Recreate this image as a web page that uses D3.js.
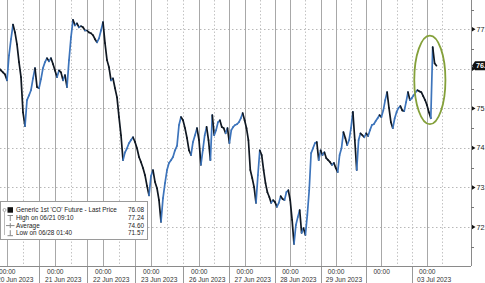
<!DOCTYPE html>
<html>
<head>
<meta charset="utf-8">
<title>Generic 1st 'CO' Future</title>
<script src="https://cdn.jsdelivr.net/npm/d3@7"></script>
<style>
  body { margin: 0; background: #fff; }
  svg { display: block; font-family: "Liberation Sans", Arial, sans-serif; }
</style>
</head>
<body>
<script>
// hourly last price, hours counted from 20 Jun 2023 00:00 on a trading-time axis (weekend removed)
var startHour = -4;
var prices = [
  76.02, 75.96, 75.91, 75.86,
  75.71, 76.34, 76.75, 77.12, 76.92, 76.62, 76.17, 75.79, 74.90, 74.55, 75.21, 75.33,
  75.46, 75.76, 76.02, 75.54, 75.51, 75.74, 76.02, 76.17, 76.27, 76.19, 76.27, 76.12,
  75.96, 75.79, 75.96, 75.91, 75.71, 75.84, 75.54, 76.22, 76.80, 77.24, 77.10, 77.15,
  77.05, 77.08, 77.05, 76.97, 76.97, 76.92, 76.90, 76.85, 76.75, 76.67, 76.77, 76.97,
  77.18, 76.65, 76.22, 76.04, 75.71, 75.76, 75.51, 75.28, 74.78, 74.32, 73.69, 73.89,
  73.99, 74.12, 74.20, 74.27, 74.15, 73.99, 73.77, 73.64, 73.49, 73.31, 73.04, 72.80,
  73.29, 73.44, 73.14, 72.98, 72.68, 72.13, 72.73, 73.11, 73.44, 73.62, 73.69, 73.77,
  73.94, 74.05, 74.58, 74.78, 74.70, 74.50, 74.25, 73.94, 73.82, 74.15, 74.32, 74.50,
  74.20, 73.57, 73.94, 74.32, 74.53, 74.20, 73.69, 74.83, 74.32, 74.45, 74.65, 74.70,
  74.53, 74.50, 74.37, 74.50, 74.12, 74.45, 74.53, 74.58, 74.60, 74.65, 74.75, 74.88,
  74.70, 74.50, 74.20, 73.44, 73.24, 73.01, 72.61, 73.31, 73.94, 73.82, 73.44, 73.11,
  72.88, 72.76, 72.61, 72.68, 72.63, 72.51, 72.61, 72.78, 72.71, 72.68, 72.88, 72.93,
  72.68, 72.18, 71.57, 72.05, 72.25, 72.43, 71.85, 71.97, 71.80, 72.30, 72.93, 73.87,
  73.99, 74.12, 74.15, 73.69, 73.94, 73.82, 73.89, 73.74, 73.69, 73.64, 73.57, 73.62,
  73.49, 73.39, 73.82, 73.99, 74.40, 74.25, 74.07, 74.20, 74.50, 74.91, 74.20, 73.44,
  74.20, 74.37, 74.32, 74.27, 74.37, 74.30, 74.45, 74.58, 74.60, 74.68, 74.75, 74.83,
  74.78, 74.95, 75.21, 75.41, 75.01, 74.65, 74.50, 74.75, 74.91, 75.01, 75.06, 74.95,
  74.93, 75.16, 75.41, 75.21, 75.26, 75.33, 75.41, 75.46, 75.43, 75.41, 75.31, 75.21,
  75.08, 74.90, 74.75, 76.55, 76.14, 76.08
];

var dayLabels = ["20 Jun 2023", "21 Jun 2023", "22 Jun 2023", "23 Jun 2023", "26 Jun 2023",
                 "27 Jun 2023", "28 Jun 2023", "29 Jun 2023", "", "03 Jul 2023"];
var dayIsFriday = [false, false, false, true, false, false, false, false, true, false];
var yTicks = [72, 73, 74, 75, 76, 77];
var yMinor = [71.5, 72.5, 73.5, 74.5, 75.5, 76.5, 77.5];

var legendNames = ["Generic 1st 'CO' Future - Last Price", "High on 06/21 09:10", "Average", "Low on 06/28 01:40"];
var legendValues = ["76.08", "77.24", "74.60", "71.57"];
var lastPrice = 76.08;

// highlighted area: centre hour / price and half sizes
var ringCentre = [217.5, 75.72];
var ringHalf = [8.2, 1.12];

var W = 485, H = 283;
var axisX = 471, axisY = 266;

var svg = d3.select("body").append("svg")
  .attr("width", W).attr("height", H);

// x in trading hours, 23 Jun -> 26 Jun weekend squeezed out
var x = d3.scaleLinear().domain([0, 96, 216]).range([7, 199, 427]);
var y = d3.scaleLinear().domain([72, 77]).range([227, 29.3]);

var days = dayLabels.map(function (d, i) { return { i: i, h: i * 24, label: d, fri: dayIsFriday[i] }; });

// grid
var grid = svg.append("g");
grid.selectAll(".hg").data(yTicks).enter().append("line")
  .attr("x1", 0).attr("x2", axisX)
  .attr("y1", function (d) { return Math.round(y(d)) + 0.5; })
  .attr("y2", function (d) { return Math.round(y(d)) + 0.5; })
  .attr("stroke", "#b8b8b8").attr("stroke-dasharray", "1.5,2.5");

days.forEach(function (d) {
  var xs = Math.round(x(d.h)) + 0.5;
  grid.append("line").attr("x1", xs).attr("x2", xs).attr("y1", 0).attr("y2", axisY)
    .attr("stroke", "#a8a8a8");
  var x8 = Math.round(x(d.h + 8)) + 0.5;
  grid.append("line").attr("x1", x8).attr("x2", x8).attr("y1", 0).attr("y2", axisY)
    .attr("stroke", "#c4c4c4").attr("stroke-dasharray", "1.5,2");
  if (d.i < days.length - 1) {
    var x16 = Math.round(x(d.h + 16)) + 0.5;
    var l = grid.append("line").attr("x1", x16).attr("x2", x16).attr("y1", 0).attr("y2", axisY);
    if (d.fri) l.attr("stroke", "#c4c4c4").attr("stroke-dasharray", "1.5,2");
    else l.attr("stroke", "#a8a8a8");
    svg.append("line").attr("x1", x16).attr("x2", x16).attr("y1", axisY).attr("y2", H)
      .attr("stroke", "#999");
  }
});

// price line: rising pieces blue, falling pieces near black
var pts = prices.map(function (p, i) { return [startHour + i, p]; });
var segs = d3.pairs(pts);
svg.append("g").selectAll("line").data(segs).enter().append("line")
  .attr("x1", function (s) { return x(s[0][0]); })
  .attr("y1", function (s) { return y(s[0][1]); })
  .attr("x2", function (s) { return x(s[1][0]); })
  .attr("y2", function (s) { return y(s[1][1]); })
  .attr("stroke", function (s) { return s[1][1] >= s[0][1] ? "#3d74bb" : "#101822"; })
  .attr("stroke-width", 1.7)
  .attr("stroke-linecap", "round");

// highlight ring
svg.append("ellipse")
  .attr("cx", x(ringCentre[0])).attr("cy", y(ringCentre[1]))
  .attr("rx", x(ringCentre[0] + ringHalf[0]) - x(ringCentre[0]))
  .attr("ry", y(ringCentre[1] - ringHalf[1]) - y(ringCentre[1]))
  .attr("fill", "none").attr("stroke", "#84a03a").attr("stroke-width", 1.8);

// axes
svg.append("line").attr("x1", axisX + 0.5).attr("x2", axisX + 0.5).attr("y1", 0).attr("y2", axisY)
  .attr("stroke", "#8a8a8a");
svg.append("line").attr("x1", 0).attr("x2", axisX).attr("y1", axisY + 0.5).attr("y2", axisY + 0.5)
  .attr("stroke", "#8a8a8a");

svg.selectAll(".ymin").data(yMinor).enter().append("line")
  .attr("x1", axisX).attr("x2", axisX + 3)
  .attr("y1", function (d) { return Math.round(y(d)) + 0.5; })
  .attr("y2", function (d) { return Math.round(y(d)) + 0.5; })
  .attr("stroke", "#777");

var yt = svg.selectAll(".yt").data(yTicks).enter().append("g")
  .attr("transform", function (d) { return "translate(" + axisX + "," + y(d) + ")"; });
yt.append("path").attr("d", "M1,-2.2L4.5,0L1,2.2Z").attr("fill", "#111");
// the tick label next to the last price tag is hidden behind it
yt.filter(function (d) { return Math.abs(d - lastPrice) > 0.3; })
  .append("text").attr("x", 5.5).attr("dy", "0.35em")
  .attr("font-size", 7.2).attr("fill", "#222")
  .text(function (d) { return d3.format(".2f")(d); });

// last price tag
var ly = y(lastPrice);
svg.append("path")
  .attr("d", "M" + (axisX + 1) + "," + ly + "L" + (axisX + 4) + "," + (ly - 4.5) + "L" + (W + 2) + "," + (ly - 4.5)
    + "L" + (W + 2) + "," + (ly + 4.5) + "L" + (axisX + 4) + "," + (ly + 4.5) + "Z")
  .attr("fill", "#111");
svg.append("text").attr("x", axisX + 5).attr("y", ly).attr("dy", "0.35em")
  .attr("font-size", 7.2).attr("font-weight", "bold").attr("fill", "#fff")
  .text(d3.format(".2f")(lastPrice));

// x labels
var xl = svg.selectAll(".xl").data(days).enter().append("g")
  .attr("transform", function (d) { return "translate(" + x(d.h) + ",0)"; });
xl.append("text").attr("x", -8).attr("y", 273.5)
  .attr("font-size", 6.6).attr("fill", "#333").text("00:00");
xl.append("text").attr("x", -10).attr("y", 282)
  .attr("font-size", 6.6).attr("fill", "#333").text(function (d) { return d.label; });

// legend
var lg = svg.append("g");
lg.append("rect").attr("x", 0.5).attr("y", 201.5).attr("width", 147).attr("height", 38)
  .attr("fill", "#fff").attr("stroke", "#9a9a9a");
var rowY = [210, 218, 225.6, 233.2];
lg.append("line").attr("x1", 4.5).attr("x2", 4.5).attr("y1", 212).attr("y2", 235)
  .attr("stroke", "#bbb");
lg.append("circle").attr("cx", 4.5).attr("cy", rowY[0]).attr("r", 1.5)
  .attr("fill", "none").attr("stroke", "#888").attr("stroke-width", 0.7);
lg.append("rect").attr("x", 7.5).attr("y", rowY[0] - 2.8).attr("width", 5.5).attr("height", 5.5).attr("fill", "#111");
lg.append("path").attr("d", "M7.5," + (rowY[1] - 2.5) + "H13M10.25," + (rowY[1] - 2.5) + "V" + (rowY[1] + 3))
  .attr("stroke", "#888").attr("fill", "none");
lg.append("path").attr("d", "M6," + rowY[2] + "H14.5M10.25," + (rowY[2] - 2.5) + "V" + (rowY[2] + 2.5))
  .attr("stroke", "#888").attr("fill", "none");
lg.append("path").attr("d", "M7.5," + (rowY[3] + 2.5) + "H13M10.25," + (rowY[3] - 3) + "V" + (rowY[3] + 2.5))
  .attr("stroke", "#888").attr("fill", "none");

lg.selectAll(".ln").data(legendNames).enter().append("text")
  .attr("x", 16).attr("y", function (d, i) { return rowY[i]; }).attr("dy", "0.35em")
  .attr("font-size", 6.4).attr("fill", "#222").text(function (d) { return d; });
lg.selectAll(".lv").data(legendValues).enter().append("text")
  .attr("x", 144).attr("y", function (d, i) { return rowY[i]; }).attr("dy", "0.35em")
  .attr("text-anchor", "end").attr("font-size", 6.4).attr("fill", "#222").text(function (d) { return d; });
</script>
</body>
</html>
